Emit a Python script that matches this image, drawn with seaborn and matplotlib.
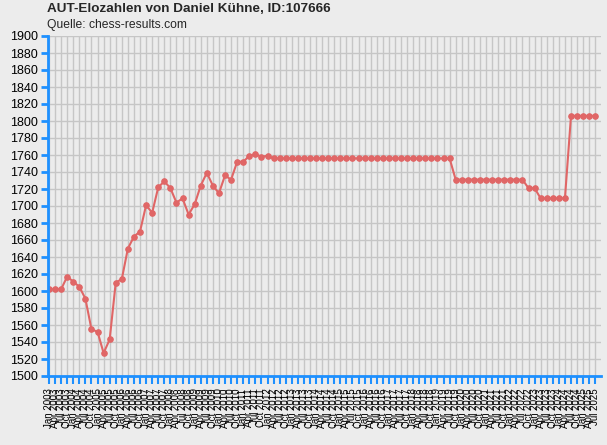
import matplotlib
matplotlib.use("Agg")
import matplotlib.pyplot as plt
import pandas as pd
import seaborn as sns

# AUT rating lists, quarterly
months = ["Jan", "Apr", "Jul", "Oct"]
list_labels = [f"{m} {y}" for y in range(2003, 2026) for m in months][:91]

elo = [1602, 1602, 1602, 1617, 1611, 1605, 1591, 1555, 1552, 1527,
       1543, 1610, 1614, 1650, 1664, 1670, 1701, 1692, 1722, 1729,
       1721, 1704, 1709, 1690, 1702, 1724, 1739, 1724, 1715, 1736,
       1731, 1752, 1752, 1759, 1761, 1758, 1759,
       1756, 1756, 1756, 1756, 1756, 1756, 1756, 1756, 1756, 1756,
       1756, 1756, 1756, 1756, 1756, 1756, 1756, 1756, 1756, 1756,
       1756, 1756, 1756, 1756, 1756, 1756, 1756, 1756, 1756, 1756,
       1731, 1731, 1731, 1731, 1731, 1731, 1731, 1731, 1731, 1731,
       1731, 1731, 1721, 1721,
       1709, 1709, 1709, 1709, 1709,
       1806, 1806, 1806, 1806, 1806]

df = pd.DataFrame({"pos": range(len(elo)), "liste": list_labels, "elo": elo})

bg = "#ececec"
blue = "#1e90ff"
red = "#e06666"

sns.set_style("whitegrid")
plt.rcParams["font.family"] = ["Liberation Sans", "DejaVu Sans"]

fig = plt.figure(figsize=(6.07, 4.45), dpi=100, facecolor=bg)
ax = fig.add_axes([48 / 607, 69 / 445, 553 / 607, 340 / 445])
ax.set_facecolor(bg)

sns.lineplot(data=df, x="pos", y="elo", ax=ax, color=red, linewidth=1.5,
             marker="o", markersize=4, markeredgecolor=red, markerfacecolor=red)

ax.set_xlim(-0.16, 90.94)
ax.set_ylim(1500, 1900)
ax.set_yticks(range(1500, 1901, 20))
ax.set_xticks(df["pos"])
ax.set_xticklabels(df["liste"], rotation=90, fontsize=7)
ax.tick_params(axis="y", left=True, labelsize=9, colors=blue, labelcolor="black",
               length=5, width=2, direction="out", pad=2)
ax.tick_params(axis="x", bottom=True, colors=blue, labelcolor="black",
               length=6, width=1.5, direction="out", pad=3)
ax.grid(True, color="#c6c6c6", linewidth=1)
ax.set_xlabel("")
ax.set_ylabel("")

for side in ["top", "right"]:
    ax.spines[side].set_visible(False)
for side in ["left", "bottom"]:
    ax.spines[side].set_color(blue)
    ax.spines[side].set_linewidth(2)

fig.text(47 / 607, 1 - 3 / 445, "AUT-Elozahlen von Daniel Kühne, ID:107666",
         fontsize=9.7, fontweight="bold", va="top", ha="left")
fig.text(47 / 607, 1 - 19 / 445, "Quelle: chess-results.com",
         fontsize=8.7, va="top", ha="left")

fig.savefig("out.png", dpi=100, facecolor=bg)
